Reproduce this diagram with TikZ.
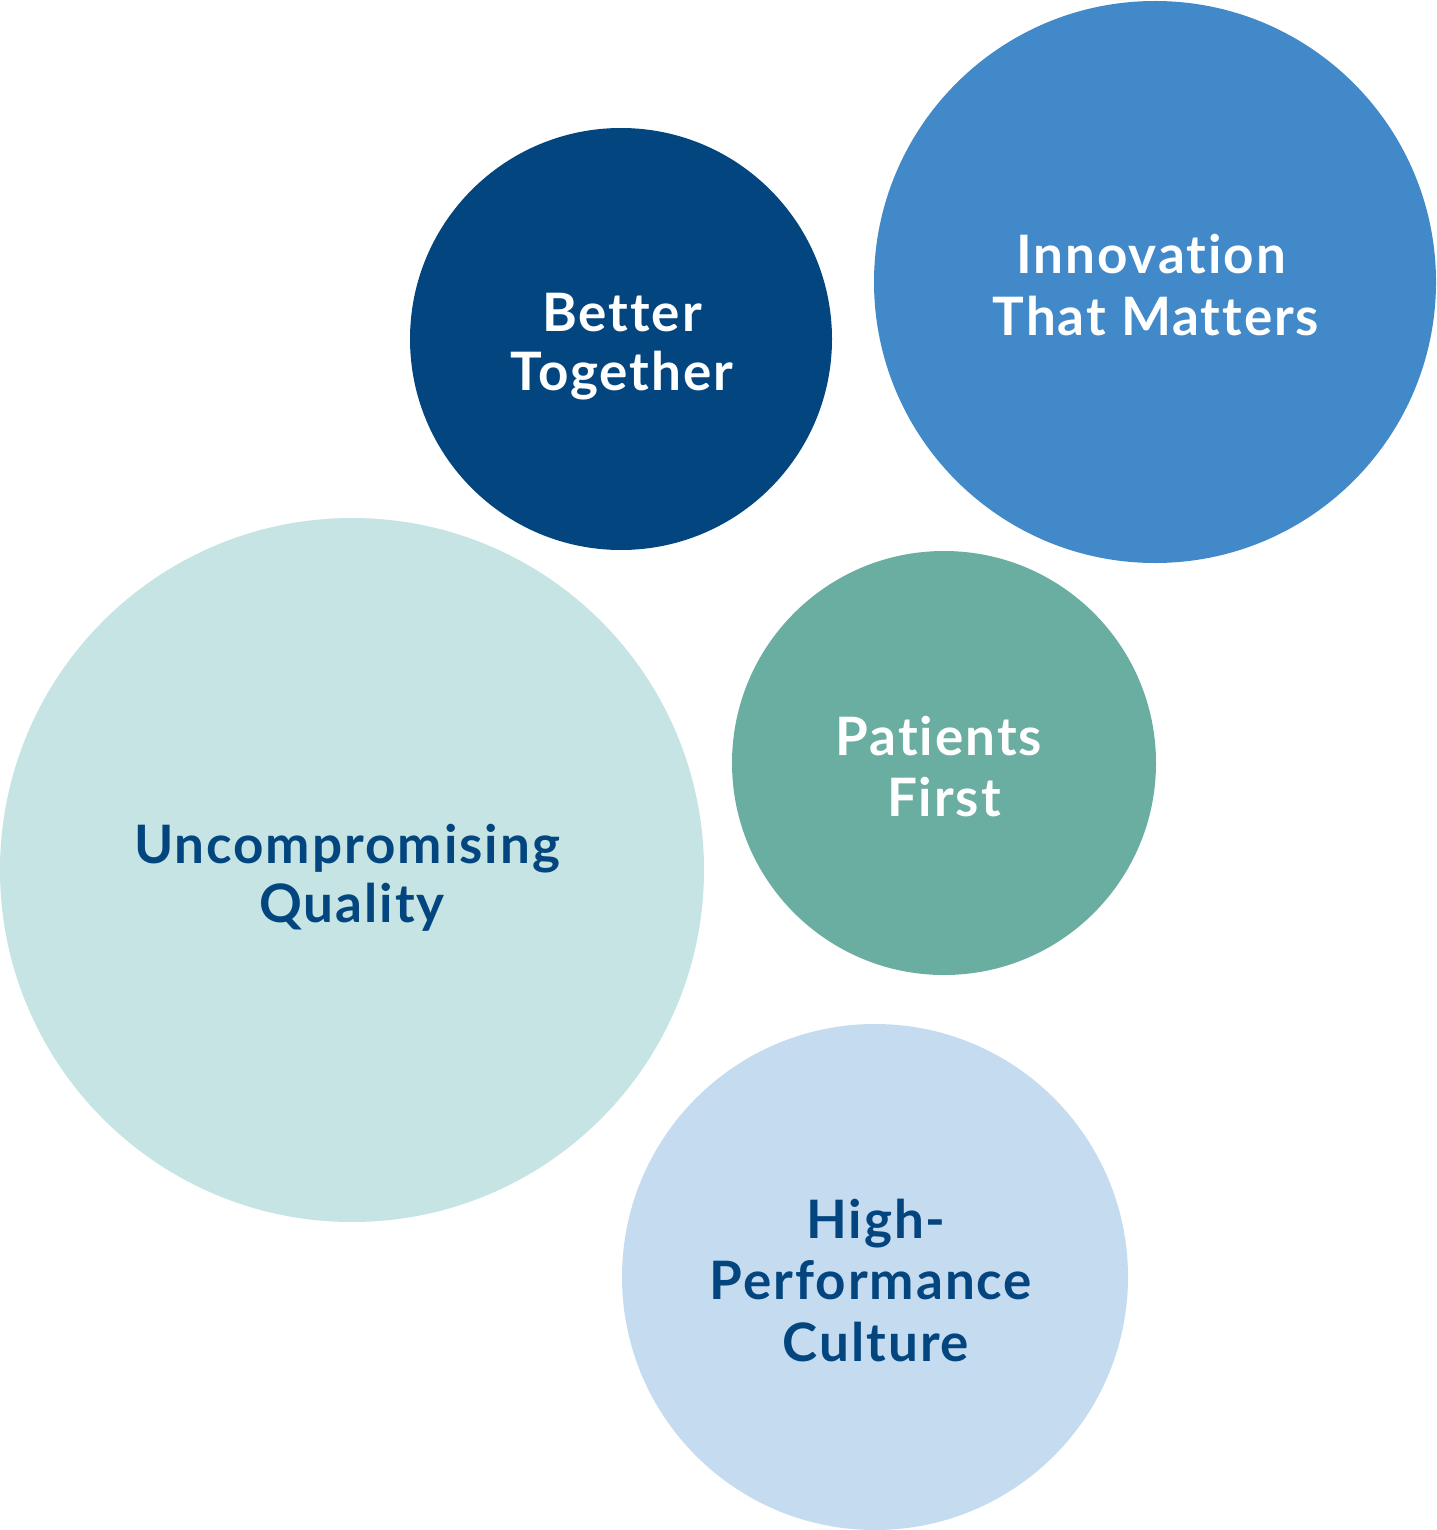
\documentclass[tikz,border=0pt]{standalone}
\usepackage{fontspec}
\setmainfont{Lato}[Ligatures={NoCommon,NoRare,NoDiscretionary},LetterSpace=3.7]
\definecolor{navy}{HTML}{03467F}
\definecolor{midblue}{HTML}{4189C8}
\definecolor{paleteal}{HTML}{C6E4E4}
\definecolor{teal}{HTML}{6AADA1}
\definecolor{paleblue}{HTML}{C5DBEF}
\begin{document}
\begin{tikzpicture}[x=1pt,y=-1pt,
  bubble/.style={circle,inner sep=0pt,outer sep=0pt,draw=none},
  lbl/.style={anchor=base,inner sep=0pt,font=\fontsize{53}{61}\selectfont\bfseries}]
\useasboundingbox (0,0) rectangle (1436,1530);
\node[bubble,fill=navy,minimum size=422pt] (better) at (621,339) {};
\node[bubble,fill=midblue,minimum size=562pt] (innov) at (1155,282) {};
\node[bubble,fill=paleteal,minimum size=704pt] (quality) at (352,870) {};
\node[bubble,fill=teal,minimum size=424pt] (patients) at (944,763) {};
\node[bubble,fill=paleblue,minimum size=506pt] (culture) at (875,1277) {};
\node[lbl,text=white] (b1) at (622,331) {Better};
\node[lbl,text=white] (b2) at (622,390) {Together};
\node[lbl,text=white] (i1) at (1151,273) {Innovation};
\node[lbl,text=white] (i2) at (1156,335) {That Matters};
\node[lbl,text=white] (p1) at (939,755) {Patients};
\node[lbl,text=white] (p2) at (944,816) {First};
\node[lbl,text=navy] (q1) at (347,863) {Uncompromising};
\node[lbl,text=navy] (q2) at (352,922) {Quality};
\node[lbl,text=navy] (c1) at (876,1238) {High-};
\node[lbl,text=navy] (c2) at (871,1299) {Performance};
\node[lbl,text=navy] (c3) at (876,1361) {Culture};
\end{tikzpicture}
\end{document}
